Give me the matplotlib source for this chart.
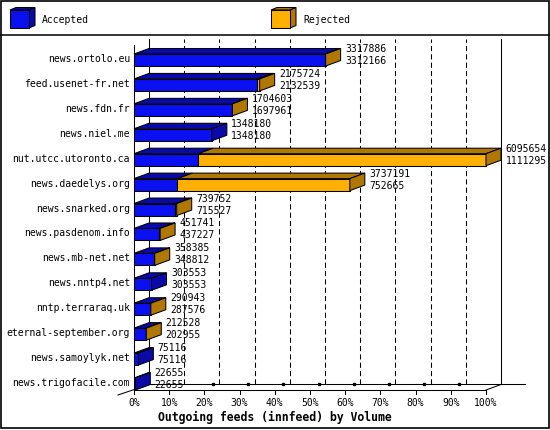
import matplotlib
matplotlib.use('Agg')
import matplotlib.pyplot as plt
from matplotlib.patches import Polygon, Rectangle

plt.rcParams['font.family'] = 'DejaVu Sans Mono'

# Outgoing feeds (innfeed) by volume
hosts = ['news.ortolo.eu', 'feed.usenet-fr.net', 'news.fdn.fr', 'news.niel.me',
         'nut.utcc.utoronto.ca', 'news.daedelys.org', 'news.snarked.org',
         'news.pasdenom.info', 'news.mb-net.net', 'news.nntp4.net',
         'nntp.terraraq.uk', 'eternal-september.org', 'news.samoylyk.net',
         'news.trigofacile.com']
offered = [3317886, 2175724, 1704603, 1348180, 6095654, 3737191, 739752,
           451741, 358385, 303553, 290943, 212528, 75116, 22655]
accepted = [3312166, 2132539, 1697961, 1348180, 1111295, 752665, 715527,
            437227, 348812, 303553, 287576, 202955, 75116, 22655]
pct_ticks = [0, 10, 20, 30, 40, 50, 60, 70, 80, 90, 100]

BLUE, BLUE_D = '#0a10f0', '#0a0aaa'
ORANGE, ORANGE_D = '#ffb000', '#b07800'

W, H = 550, 430
fig = plt.figure(figsize=(W / 100, H / 100), dpi=100)
fig.patch.set_facecolor('white')

# front of the plot box in pixels
left, right, top, bottom = 134, 486, 45, 390
row_px = 24.92
ax = fig.add_axes([left / W, 1 - bottom / H, (right - left) / W, (bottom - top) / H])
n = len(hosts)
vmax = max(offered)
ax.set_xlim(0, vmax)
ax.set_ylim(n - 1 + 6 / row_px, -15 / row_px)
ax.axis('off')

px_x = vmax / (right - left)   # data units per pixel
px_y = 1 / row_px
dx, dy = 15 * px_x, -5.5 * px_y  # 3d depth
h = 12 * px_y
ybot, ytop = ax.get_ylim()

line_kw = dict(color='black', lw=0.75, clip_on=False)

# back wall grid
for p in pct_ticks:
    x = p / 100 * vmax
    ls = '-' if p in (0, 100) else (0, (5, 3))
    ax.plot([x + dx, x + dx], [ybot + dy, ytop + dy], ls=ls, zorder=1, **line_kw)
    # front ticks + labels
    ax.plot([x, x], [ybot, ybot + 4 * px_y], zorder=2, **line_kw)
    if 10 < p < 100:
        ax.plot([x + 8.5 * px_x], [ybot + dy], marker='s', ms=1.8, color='black',
                clip_on=False, zorder=2)
    ax.text(x, ybot + 13 * px_y, f'{p}%', ha='center', va='center', fontsize=7)

# floor and walls
ax.plot([dx, vmax + dx + 24 * px_x], [ybot + dy, ybot + dy], zorder=1, **line_kw)
ax.plot([0, vmax], [ybot, ybot], zorder=2, **line_kw)
ax.plot([0, 0], [ybot, ytop], zorder=2, **line_kw)
ax.plot([-16 * px_x, dx], [ybot + 5 * px_y, ybot + dy], zorder=1, **line_kw)
ax.plot([vmax, vmax + dx], [ybot, ybot + dy], zorder=2, **line_kw)


def face(pts, fc):
    ax.add_patch(Polygon(pts, closed=True, fc=fc, ec='black', lw=0.75,
                         clip_on=False, zorder=3))


for i, (name, tot, acc) in enumerate(zip(hosts, offered, accepted)):
    y0, y1 = i - h / 2, i + h / 2
    segs = [(0, acc, BLUE, BLUE_D), (acc, tot, ORANGE, ORANGE_D)]
    segs = [s for s in segs if s[1] > s[0]]
    for x0, x1, fc, dc in segs:
        ax.add_patch(Rectangle((x0, y0), x1 - x0, h, fc=fc, ec='black', lw=0.75,
                               clip_on=False, zorder=3))
        face([(x0, y0), (x1, y0), (x1 + dx, y0 + dy), (x0 + dx, y0 + dy)], dc)
    face([(tot, y0), (tot, y1), (tot + dx, y1 + dy), (tot + dx, y0 + dy)], segs[-1][3])

    tx = tot + dx + 4.5 * px_x
    ax.text(tx, i - 11 * px_y, str(tot), ha='left', va='center', fontsize=7, zorder=4)
    ax.text(tx, i + 1 * px_y, str(acc), ha='left', va='center', fontsize=7, zorder=4)
    ax.text(-4 * px_x, i - 1 * px_y, name, ha='right', va='center', fontsize=7)

fig.text(0.5, 1 - 417 / H, 'Outgoing feeds (innfeed) by Volume', ha='center',
         va='center', fontsize=8.3, fontweight='bold')

# frame + legend strip, in pixel space
lg = fig.add_axes([0, 0, 1, 1], facecolor='none')
lg.set_xlim(0, W)
lg.set_ylim(H, 0)
lg.axis('off')
lg.add_patch(Rectangle((0.5, 0.5), W - 1.5, H - 2.5, fill=False, ec='black', lw=1.2))
lg.plot([0, W], [35, 35], color='black', lw=1.1)


def cube(x, fc, dc):
    lg.add_patch(Polygon([(x, 10), (x + 19, 10), (x + 25, 7.5), (x + 6, 7.5)],
                         fc=dc, ec='black', lw=0.75))
    lg.add_patch(Polygon([(x + 19, 10), (x + 25, 7.5), (x + 25, 25.5), (x + 19, 28)],
                         fc=dc, ec='black', lw=0.75))
    lg.add_patch(Rectangle((x, 10), 19, 18, fc=fc, ec='black', lw=0.75))


cube(10, BLUE, BLUE_D)
lg.text(42, 20, 'Accepted', ha='left', va='center', fontsize=7)
cube(271, ORANGE, ORANGE_D)
lg.text(303, 20, 'Rejected', ha='left', va='center', fontsize=7)

fig.savefig('out.png', dpi=100)
